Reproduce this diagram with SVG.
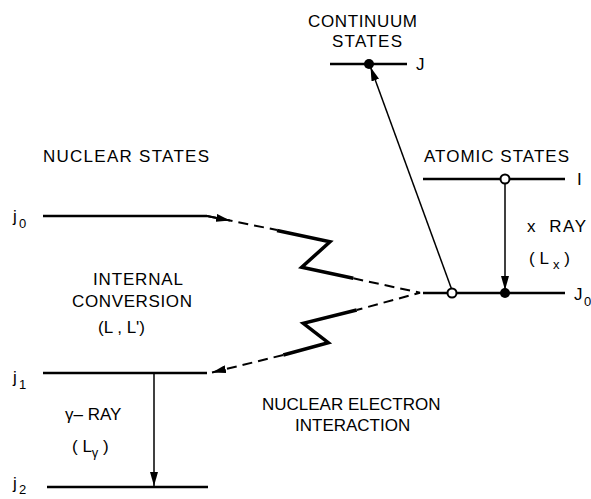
<svg xmlns="http://www.w3.org/2000/svg" width="591" height="499" viewBox="0 0 591 499">
<style>
text{font-family:"Liberation Sans",Arial,sans-serif;font-size:17px;fill:#000}
.sub{font-size:13px}
.lvl{stroke:#000;stroke-width:2.5;fill:none}
.arr{stroke:#000;stroke-width:1.5;fill:none}
.dash{stroke:#000;stroke-width:2;fill:none;stroke-dasharray:10 6}
.zig{stroke:#000;stroke-width:3.5;fill:none;stroke-linejoin:miter}
.open{fill:#fff;stroke:#000;stroke-width:2}
.full{fill:#000}
</style>
<defs>
<marker id="ah" markerUnits="userSpaceOnUse" viewBox="0 0 14 8" refX="14" refY="4" markerWidth="14" markerHeight="8" orient="auto">
<path d="M0,0 L14,4 L0,8 Z" fill="#000"/>
</marker>
</defs>
<rect width="591" height="499" fill="#fff"/>

<g id="title-nuclear"><text x="43" y="162" textLength="166">NUCLEAR STATES</text></g>
<g id="title-atomic"><text x="424" y="162" textLength="145">ATOMIC STATES</text></g>
<g id="title-continuum"><text x="308" y="27" textLength="109">CONTINUUM</text><text x="332" y="47" textLength="70">STATES</text></g>

<g id="level-j0"><line class="lvl" x1="43" y1="216" x2="207" y2="216"/><text x="13" y="222">j</text><text class="sub" x="19" y="228">0</text></g>
<g id="level-j1"><line class="lvl" x1="43" y1="373" x2="207" y2="373"/><text x="13" y="383">j</text><text class="sub" x="19" y="389">1</text></g>
<g id="level-j2"><line class="lvl" x1="47" y1="487" x2="208" y2="487"/><text x="13" y="489">j</text><text class="sub" x="19" y="494">2</text></g>
<g id="level-J"><line class="lvl" x1="330" y1="64" x2="407" y2="64"/><text x="416" y="70">J</text></g>
<g id="level-I"><line class="lvl" x1="423" y1="179" x2="565" y2="179"/><text x="577" y="185">I</text></g>
<g id="level-J0"><line class="lvl" x1="423" y1="293" x2="565" y2="293"/><text x="574" y="300">J</text><text class="sub" x="584" y="306">0</text></g>

<g id="label-ic"><text x="93" y="285" textLength="90">INTERNAL</text><text x="72" y="307" textLength="120">CONVERSION</text><text x="98" y="333" xml:space="preserve">(L , L')</text></g>
<g id="label-gamma"><text x="65" y="420" xml:space="preserve">γ– RAY</text><text x="72" y="452" xml:space="preserve">( L<tspan class="sub" dy="5">γ</tspan><tspan dy="-5"> )</tspan></text></g>
<g id="label-xray"><text x="527" y="232" xml:space="preserve" textLength="59">x  RAY</text><text x="529" y="264" xml:space="preserve">( L <tspan class="sub" dy="5">x</tspan><tspan dy="-5"> )</tspan></text></g>
<g id="label-nei"><text x="262" y="410">NUCLEAR ELECTRON</text><text x="295" y="431">INTERACTION</text></g>

<g id="connectors">
<line class="arr" x1="154" y1="373" x2="154" y2="486" marker-end="url(#ah)"/>
<line class="arr" x1="505" y1="183" x2="505" y2="290" marker-end="url(#ah)"/>
<line class="arr" x1="453" y1="293" x2="370.5" y2="67" marker-end="url(#ah)"/>
<path class="dash" d="M207,216 L277,230"/>
<line class="dash" x1="207" y1="216" x2="230" y2="220.6" stroke-dasharray="none" marker-end="url(#ah)"/>
<path class="zig" d="M277,230.5 L330,241.7 L301.7,267.3 L353.3,278.3"/>
<path class="dash" d="M353.3,278.3 L420,292.7 L356.7,310"/>
<path class="zig" d="M356.7,310 L303.3,323.3 L328.3,342.7 L283.3,355"/>
<path class="dash" d="M283.3,355 L212,372.5" marker-end="url(#ah)"/>
</g>

<g id="dots">
<circle class="open" cx="505" cy="179" r="4.5"/>
<circle class="open" cx="452" cy="293" r="4.5"/>
<circle class="full" cx="505" cy="293" r="5"/>
<circle class="full" cx="369" cy="64" r="5"/>
</g>
</svg>
